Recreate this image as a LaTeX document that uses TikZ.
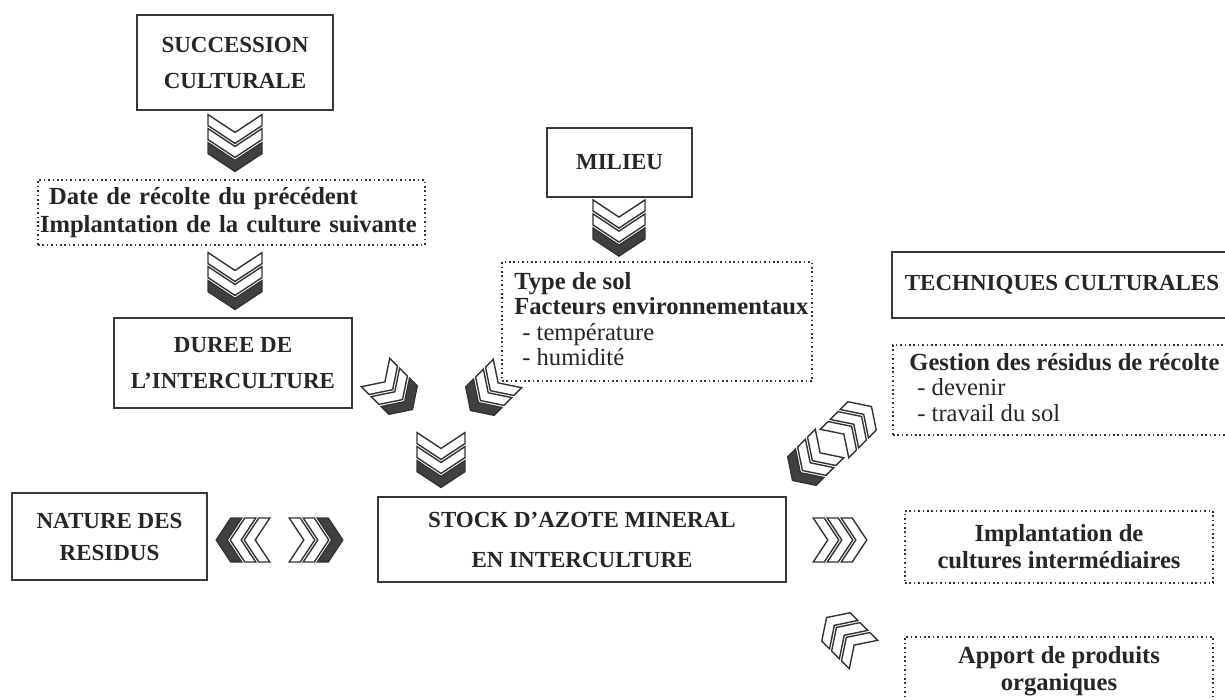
\documentclass[tikz,border=0pt]{standalone}
\usepackage{fontspec}
\setmainfont{Liberation Serif}
\hyphenpenalty=10000
\exhyphenpenalty=10000

% three stacked chevrons, pointing down before rotation
% #1,#2 centre, #3 rotation, #4 width, #5 fill of the leading chevron
\newcommand{\chevrons}[5]{%
  \begin{scope}[shift={(#1,#2)}, rotate=#3]
    \pgfmathsetmacro{\cd}{#4*0.33}
    \pgfmathsetmacro{\ctop}{-(28+\cd+11)/2}
    \foreach \k in {0,1,2} {
      \pgfmathsetmacro{\yo}{\ctop+\k*14}
      \ifnum\k=2 \def\cf{#5}\else\def\cf{white}\fi
      \filldraw[chevline, fill=\cf]
        (-#4/2,\yo) -- (0,\yo+\cd) -- (#4/2,\yo) -- (#4/2,\yo+11)
        -- (0,\yo+\cd+11) -- (-#4/2,\yo+11) -- cycle;
    }
  \end{scope}}

\begin{document}
\begin{tikzpicture}[x=1pt,y=-1pt,
  solidbox/.style={draw=black!78, line width=1.8pt, inner sep=0pt, align=center,
    text=black!85, font=\bfseries\fontsize{23}{36}\selectfont},
  dotbox/.style={draw=black!80, line width=1.7pt, dash pattern=on 1.6pt off 2.8pt,
    inner sep=0pt, text=black!85, font=\fontsize{24.6}{25.5}\selectfont},
  bodytext/.style={inner sep=0pt, text=black!85, align=left, anchor=north west,
    font=\fontsize{24.6}{25.5}\selectfont},
  chevline/.style={draw=black!80, line width=1.4pt, line join=miter},
]
\useasboundingbox (0,0) rectangle (1225,699);
\clip (0,0) rectangle (1225,699);

% main boxes
\node[solidbox, minimum width=196pt, minimum height=95pt] (succ) at (235,62.5)
  {SUCCESSION\\CULTURALE};
\node[dotbox, minimum width=387pt, minimum height=65pt, text width=383pt,
  inner xsep=2pt, align=left, font=\bfseries\fontsize{24.6}{28}\selectfont] (date) at (231.5,212.5)
  {\hspace*{9pt}Date de récolte du précédent\\Implantation de la culture suivante};
\node[solidbox, minimum width=238pt, minimum height=90pt] (duree) at (233,363)
  {DUREE DE\\L'INTERCULTURE};
\node[solidbox, minimum width=145pt, minimum height=69pt] (milieu) at (619.5,162.5)
  {MILIEU};

\node[dotbox, minimum width=310pt, minimum height=119pt] (sol) at (657,321.5) {};
\node[bodytext] (soltext) at ([xshift=13pt, yshift=-11pt]sol.north west)
  {\textbf{Type de sol}\\\textbf{Facteurs environnementaux}\\\hspace*{8pt}- température\\\hspace*{8pt}- humidité};

\node[solidbox, minimum width=408pt, minimum height=85pt,
  font=\bfseries\fontsize{23}{40}\selectfont] (stock) at (582,539.5)
  {STOCK D'AZOTE MINERAL\\EN INTERCULTURE};
\node[solidbox, minimum width=195pt, minimum height=87pt,
  font=\bfseries\fontsize{23}{32}\selectfont] (nature) at (109.5,536.5)
  {NATURE DES\\RESIDUS};
\node[solidbox, minimum width=340pt, minimum height=66pt] (tech) at (1062,285)
  {TECHNIQUES CULTURALES};

\node[dotbox, minimum width=340pt, minimum height=90pt] (gestion) at (1063,390) {};
\node[bodytext] (gestiontext) at ([xshift=17pt, yshift=-9pt]gestion.north west)
  {\textbf{Gestion des résidus de récolte}\\\hspace*{8pt}- devenir\\\hspace*{8pt}- travail du sol};

\node[dotbox, minimum width=308pt, minimum height=72pt, align=center,
  font=\bfseries\fontsize{24.6}{27}\selectfont] (implant) at (1059,547)
  {Implantation de\\cultures intermédiaires};
\node[dotbox, minimum width=308pt, minimum height=69pt, align=center,
  font=\bfseries\fontsize{24.6}{27}\selectfont] (apport) at (1059,671.5)
  {Apport de produits\\organiques};

% chevron arrows
\chevrons{235}{143}{0}{54}{black!75}
\chevrons{235}{281}{0}{54}{black!75}
\chevrons{619}{228}{0}{52}{black!75}
\chevrons{394}{391}{45}{40}{black!75}
\chevrons{489}{392}{-45}{40}{black!75}
\chevrons{441}{460}{0}{48}{black!75}
\chevrons{243}{540}{-90}{44}{black!75}
\chevrons{316}{540}{90}{44}{black!75}
\chevrons{853}{425}{135}{40}{white}
\chevrons{811}{462}{-45}{40}{black!75}
\chevrons{840}{540}{90}{44}{white}
\chevrons{845}{636}{-135}{40}{white}
\end{tikzpicture}
\end{document}
